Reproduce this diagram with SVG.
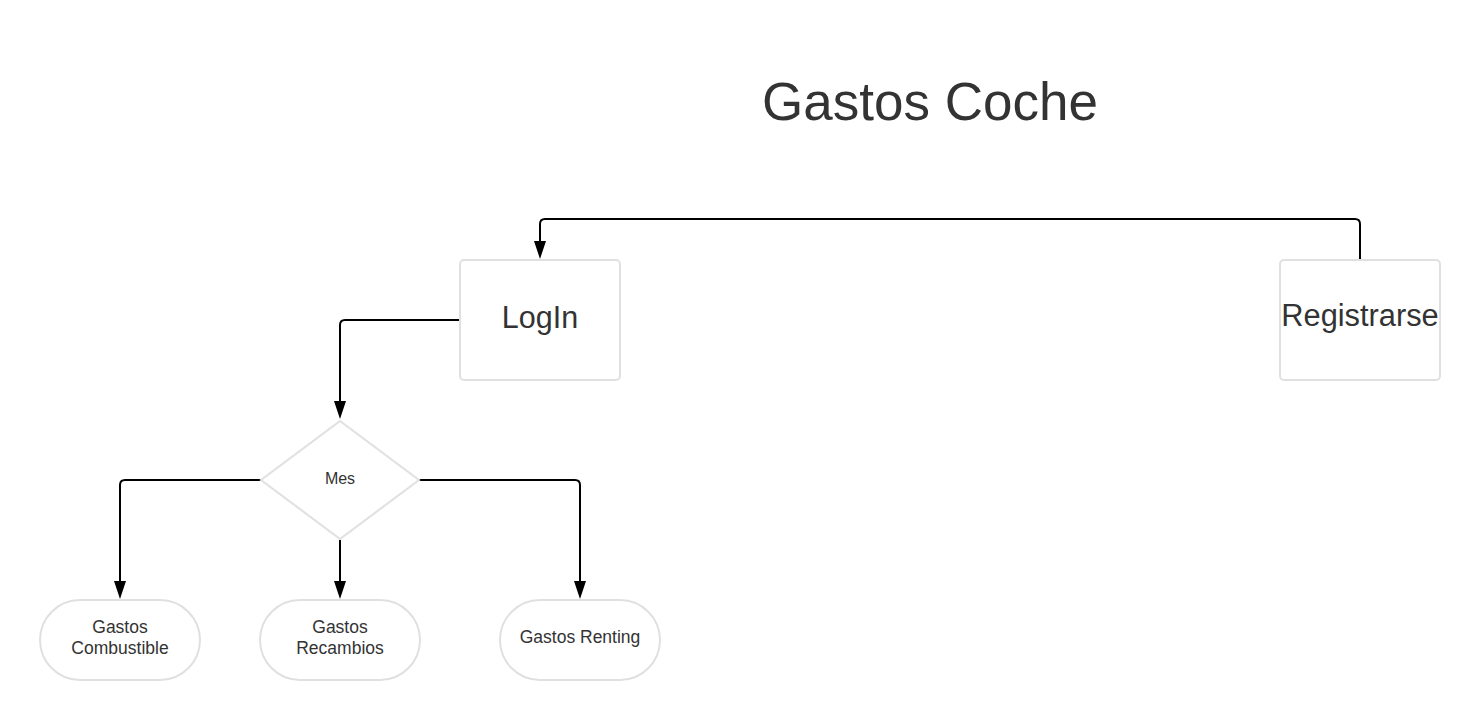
<svg xmlns="http://www.w3.org/2000/svg" width="1480" height="720" viewBox="0 0 1480 720">
<style>
.node{fill:#fff;stroke:#e0e0e0;stroke-width:2}
.t{font-family:"Liberation Sans",Arial,sans-serif;fill:#333;text-anchor:middle}
.c{fill:none;stroke:#000;stroke-width:2}
.ah{fill:#000}
</style>
<rect width="1480" height="720" fill="#fff"/>
<text class="t" x="930" y="120" font-size="53">Gastos Coche</text>
<g id="connectors">
<path class="c" d="M1360,259 V224 Q1360,219 1355,219 H545 Q540,219 540,224 V242"/>
<path class="ah" d="M534,241 L546,241 L540,259 Z"/>
<path class="c" d="M459,320 H345 Q340,320 340,325 V402"/>
<path class="ah" d="M334,401 L346,401 L340,419 Z"/>
<path class="c" d="M261,480 H125 Q120,480 120,485 V582"/>
<path class="ah" d="M114,581 L126,581 L120,599 Z"/>
<path class="c" d="M340,540 V582"/>
<path class="ah" d="M334,581 L346,581 L340,599 Z"/>
<path class="c" d="M419,480 H575 Q580,480 580,485 V582"/>
<path class="ah" d="M574,581 L586,581 L580,599 Z"/>
</g>
<g id="login">
<rect class="node" x="460" y="260" width="160" height="120" rx="4"/>
<text class="t" x="540" y="328" font-size="30.5">LogIn</text>
</g>
<g id="registrarse">
<rect class="node" x="1280" y="260" width="160" height="120" rx="4"/>
<text class="t" x="1360" y="326" font-size="30.8">Registrarse</text>
</g>
<g id="mes">
<path class="node" d="M340,421 L419,480 L340,539 L261,480 Z"/>
<text class="t" x="340" y="484" font-size="16">Mes</text>
</g>
<g id="combustible">
<rect class="node" x="40" y="600" width="160" height="80" rx="40"/>
<text class="t" x="120" y="633" font-size="17.5">Gastos</text>
<text class="t" x="120" y="654" font-size="17.5">Combustible</text>
</g>
<g id="recambios">
<rect class="node" x="260" y="600" width="160" height="80" rx="40"/>
<text class="t" x="340" y="633" font-size="17.5">Gastos</text>
<text class="t" x="340" y="654" font-size="17.5">Recambios</text>
</g>
<g id="renting">
<rect class="node" x="500" y="600" width="160" height="80" rx="40"/>
<text class="t" x="580" y="643" font-size="17.5">Gastos Renting</text>
</g>
</svg>
